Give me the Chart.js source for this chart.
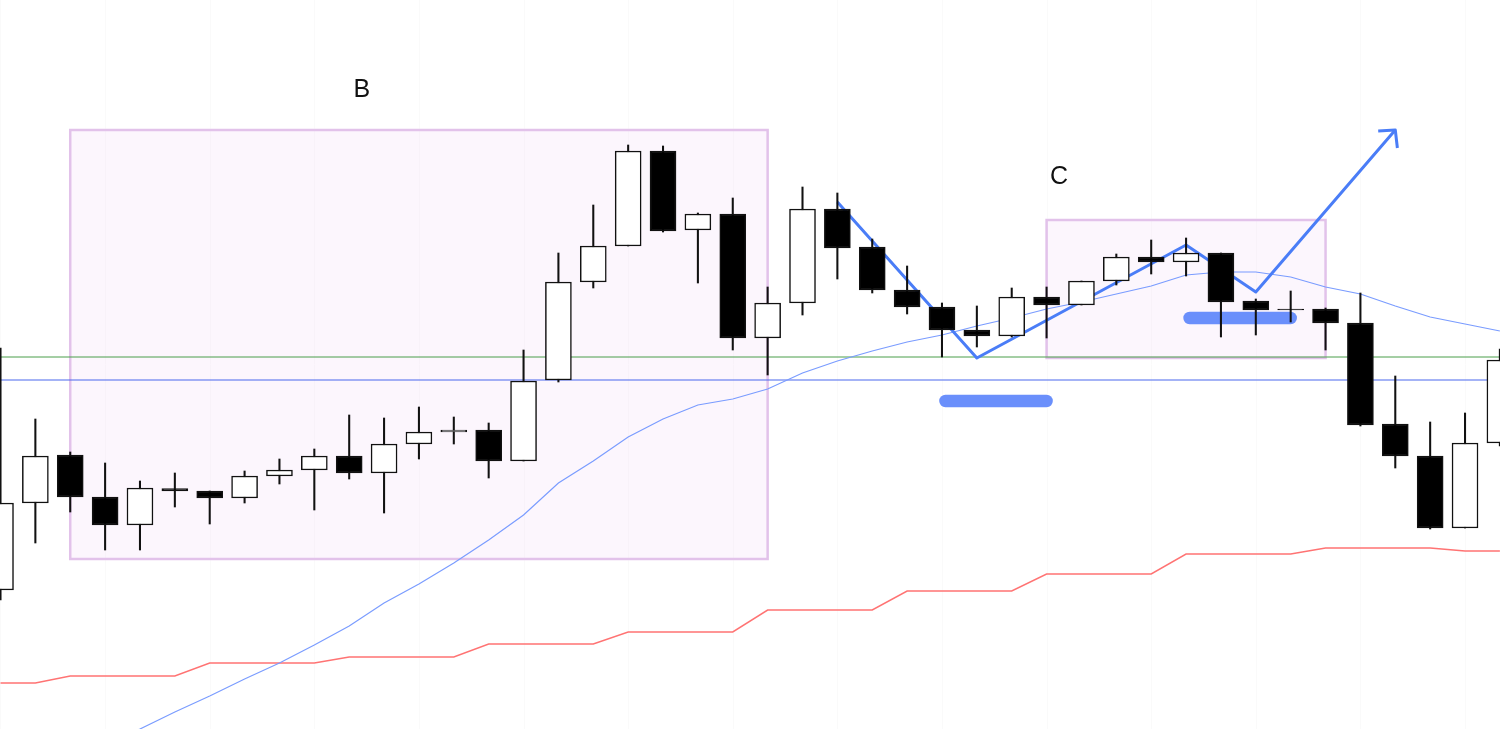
<!DOCTYPE html>
<html><head><meta charset="utf-8">
<script src="https://cdn.jsdelivr.net/npm/chart.js@4.4.1/dist/chart.umd.min.js"></script>
<style>html,body{margin:0;padding:0;background:#fff;overflow:hidden}#wrap{width:1500px;height:729px;position:relative}</style>
</head><body><div id="wrap"><canvas id="c"></canvas></div>
<script>
// candle OHLC (index 0..43)
const opens  = [139,226,274,232,204,240.5,238,231,253,259,273,256,285,297,299,268,349,447,483,578,499,515,391,426,520,482,439,422,399,393,432,424,448,472,467,476,428,420,420,406,305,273,201,286];
const highs  = [381,310,277,266,248,256,238,258,270,280,314,311,322,312,306,379,476,524,584,583,516,531,442,542,536,490,463,426,423,441,442,448,475,489,491,476,430,438,421,436,353,307,316,380];
const lows   = [129,186,217,179,179,222,205,226,245,219,250,216,270,285,251,268,347,441,483,497,446,379,354,414,450,436,415,372,382,392,391,424,444,455,453,392,394,407,379,303,261,200,201,283];
const closes = [226,273,232,204,241,238,231,253,259,273,256,285,297,299,268,348,447,483,578,498,515,391,426,520,481,439,422,399,393,432,424,448,472,467,476,427,419,419,406,304,273,201,286,369];
// moving average (starts at index 3)
const maStart = 3;
const maValues = [-16,0,17,33,50,66,84,103,126,145,166,189,214,246,268,292,310,324,330,340,356,368,378,387,394,403,411,420,427,435,443,454,457,457,452,442,435,423,412,405,398];
// red step line
const stepLine = [46,46,53,53,53,53,66,66,66,66,72,72,72,72,85,85,85,85,97,97,97,97,119,119,119,119,138,138,138,138,155,155,155,155,175,175,175,175,181,181,181,181,178,178];
// horizontal levels
const greenLevel = 372;
const blueLevel = 349;
// annotation zigzag path + arrow head
const pathX = [24,28,34,36,40];
const pathY = [527,371,484,437,599];
const headX = [39.51,40,40.06];
const headY = [598,599,581];
// support bars
const bar1X = [27.1,30.0], bar1Y = 328;
const bar2X = [34.1,37.0], bar2Y = 411;
// boxes [x0,x1,yTop,yBottom]
const boxB = [2,22,599,170];
const boxC = [30,38,509,371];
// labels
const labelText = ['B','C'];
const labelX = [10.36,30.36];
const labelY = [632,545];

const X_MIN = -0.0143, X_MAX = 43.003;
const idx = opens.map((_, i) => i);

const bodyData = idx.map(i => ({x: i, y: [opens[i], closes[i]]}));
const wickData = idx.map(i => ({x: i, y: [lows[i], highs[i]]}));
const bodyFill = idx.map(i => closes[i] >= opens[i] ? '#ffffff' : '#000000');
const maData = maValues.map((v, k) => ({x: maStart + k, y: v}));
const stepData = stepLine.map((v, i) => ({x: i, y: v}));
const pathData = pathX.map((x, k) => ({x, y: pathY[k]}));
const headData = headX.map((x, k) => ({x, y: headY[k]}));

const overlay = {
  id: 'overlay',
  beforeDatasetsDraw(chart) {
    const {ctx, scales: {x, y}} = chart;
    ctx.save();
    // faint vertical grid every 3 bars
    ctx.strokeStyle = 'rgba(0,0,0,0.018)';
    ctx.lineWidth = 1;
    for (let i = 0; i <= 43; i += 3) {
      const px = Math.round(x.getPixelForValue(i)) + 0.5;
      ctx.beginPath(); ctx.moveTo(px, 0); ctx.lineTo(px, chart.height); ctx.stroke();
    }
    [boxB, boxC].forEach(b => {
      const x0 = x.getPixelForValue(b[0]), x1 = x.getPixelForValue(b[1]);
      const y0 = y.getPixelForValue(b[2]), y1 = y.getPixelForValue(b[3]);
      ctx.fillStyle = 'rgba(240,205,245,0.18)';
      ctx.fillRect(x0, y0, x1 - x0, y1 - y0);
      ctx.strokeStyle = '#e2c2ea';
      ctx.lineWidth = 2.5;
      ctx.strokeRect(x0, y0, x1 - x0, y1 - y0);
    });
    ctx.restore();
  },
  afterDatasetsDraw(chart) {
    const {ctx, scales: {x, y}} = chart;
    ctx.save();
    ctx.fillStyle = '#111';
    ctx.font = '25px "Liberation Sans", Arial, sans-serif';
    ctx.textAlign = 'center';
    ctx.textBaseline = 'alphabetic';
    labelText.forEach((t, k) => ctx.fillText(t, x.getPixelForValue(labelX[k]), y.getPixelForValue(labelY[k])));
    ctx.restore();
  }
};

new Chart(document.getElementById('c'), {
  data: {
    datasets: [
      {type: 'bar', data: bodyData, backgroundColor: bodyFill, borderColor: '#111', borderWidth: 1.5, borderSkipped: false, barThickness: 26, grouped: false, order: 1},
      {type: 'bar', data: wickData, backgroundColor: '#111', borderWidth: 0, barThickness: 1.4, grouped: false, order: 2},
      {type: 'line', data: pathData, borderColor: '#4a7df7', borderWidth: 3, pointRadius: 0, tension: 0, borderJoinStyle: 'round', order: 3},
      {type: 'line', data: headData, borderColor: '#4a7df7', borderWidth: 3, pointRadius: 0, tension: 0, borderJoinStyle: 'round', order: 3},
      {type: 'line', data: bar1X.map(v => ({x: v, y: bar1Y})), borderColor: '#6a8ffb', borderWidth: 12.5, borderCapStyle: 'round', pointRadius: 0, order: 4},
      {type: 'line', data: bar2X.map(v => ({x: v, y: bar2Y})), borderColor: '#6a8ffb', borderWidth: 12.5, borderCapStyle: 'round', pointRadius: 0, order: 4},
      {type: 'line', data: maData, borderColor: '#7a9cff', borderWidth: 1.2, pointRadius: 0, tension: 0, order: 5},
      {type: 'line', data: stepData, borderColor: '#ff7373', borderWidth: 1.5, pointRadius: 0, tension: 0, order: 5},
      {type: 'line', data: [{x: X_MIN, y: greenLevel}, {x: X_MAX, y: greenLevel}], borderColor: '#4a9e4a', borderWidth: 1, pointRadius: 0, order: 6},
      {type: 'line', data: [{x: X_MIN, y: blueLevel}, {x: X_MAX, y: blueLevel}], borderColor: '#4a68ee', borderWidth: 1.2, pointRadius: 0, order: 6}
    ]
  },
  options: {
    responsive: true,
    maintainAspectRatio: false,
    animation: false,
    layout: {padding: 0},
    plugins: {legend: {display: false}, tooltip: {enabled: false}},
    scales: {
      x: {type: 'linear', min: X_MIN, max: X_MAX, offset: false, display: false},
      y: {type: 'linear', min: 0, max: 729, display: false}
    }
  },
  plugins: [overlay]
});
</script></body></html>
